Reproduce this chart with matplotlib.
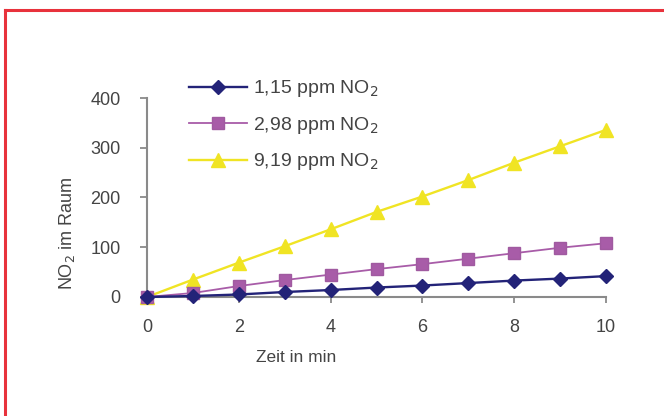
import matplotlib
matplotlib.use("Agg")
import matplotlib.pyplot as plt
from matplotlib.lines import Line2D

plt.rcParams['font.family'] = ['Liberation Sans', 'DejaVu Sans']

# Zeit in min
zeit = [0, 1, 2, 3, 4, 5, 6, 7, 8, 9, 10]
# NO2 im Raum je Konzentration
no2_115 = [0, 2, 5, 10, 14, 19, 23, 28, 33, 37, 42]
no2_298 = [0, 8, 22, 34, 45, 56, 66, 77, 88, 99, 108]
no2_919 = [0, 35, 69, 102, 136, 171, 202, 235, 270, 303, 336]
labels = ["1,15 ppm NO$_2$", "2,98 ppm NO$_2$", "9,19 ppm NO$_2$"]
xticks = [0, 2, 4, 6, 8, 10]
yticks = [0, 100, 200, 300, 400]

txt = "#444444"
fig = plt.figure(figsize=(6.64, 4.16), dpi=100)
ax = fig.add_axes([0.2214, 0.2861, 0.6913, 0.4783])

ax.plot(zeit, no2_115, color="#232378", marker="D", markersize=7.5,
        linewidth=1.7, label=labels[0], clip_on=False, zorder=4)
ax.plot(zeit, no2_298, color="#a85ca8", marker="s", markersize=8.5,
        linewidth=1.3, markeredgecolor="#a05aa0", label=labels[1],
        clip_on=False, zorder=3)
ax.plot(zeit, no2_919, color="#f0e424", marker="^", markersize=9.5,
        linewidth=1.7, label=labels[2], clip_on=False, zorder=2)

ax.set_xlim(0, 10)
ax.set_ylim(0, 400)
ax.set_xticks(xticks)
ax.set_yticks(yticks)

for s in ["top", "right"]:
    ax.spines[s].set_visible(False)
for s in ["left", "bottom"]:
    ax.spines[s].set_color("#8a8a8a")
    ax.spines[s].set_linewidth(1.5)

ax.tick_params(axis="y", direction="out", length=5, width=1.3,
               color="#8a8a8a", labelsize=13, labelcolor=txt, pad=14)
ax.tick_params(axis="x", direction="out", length=4, width=1.3,
               color="#8a8a8a", labelsize=13, labelcolor=txt, pad=12)

ax.set_ylabel("NO$_2$ im Raum", fontsize=13, color=txt)
ax.yaxis.set_label_coords(-0.152, 0.32)
ax.set_xlabel("Zeit in min", fontsize=12.5, color=txt)
ax.xaxis.set_label_coords(0.325, -0.265)

leg = ax.legend(loc="upper left", bbox_to_anchor=(0.270, 0.835),
                bbox_transform=fig.transFigure, frameon=False,
                fontsize=14, handlelength=3.0, labelspacing=0.8,
                handletextpad=0.3, borderpad=0)
for t in leg.get_texts():
    t.set_color(txt)

# roter Rahmen
red = "#e8323c"
fig.add_artist(Line2D([0.0075, 1.0], [0.9765, 0.9765], color=red,
                      linewidth=2.2, transform=fig.transFigure))
fig.add_artist(Line2D([0.0075, 0.0075], [0.0, 0.9765], color=red,
                      linewidth=2.2, transform=fig.transFigure))

fig.savefig("out.png", dpi=100)
